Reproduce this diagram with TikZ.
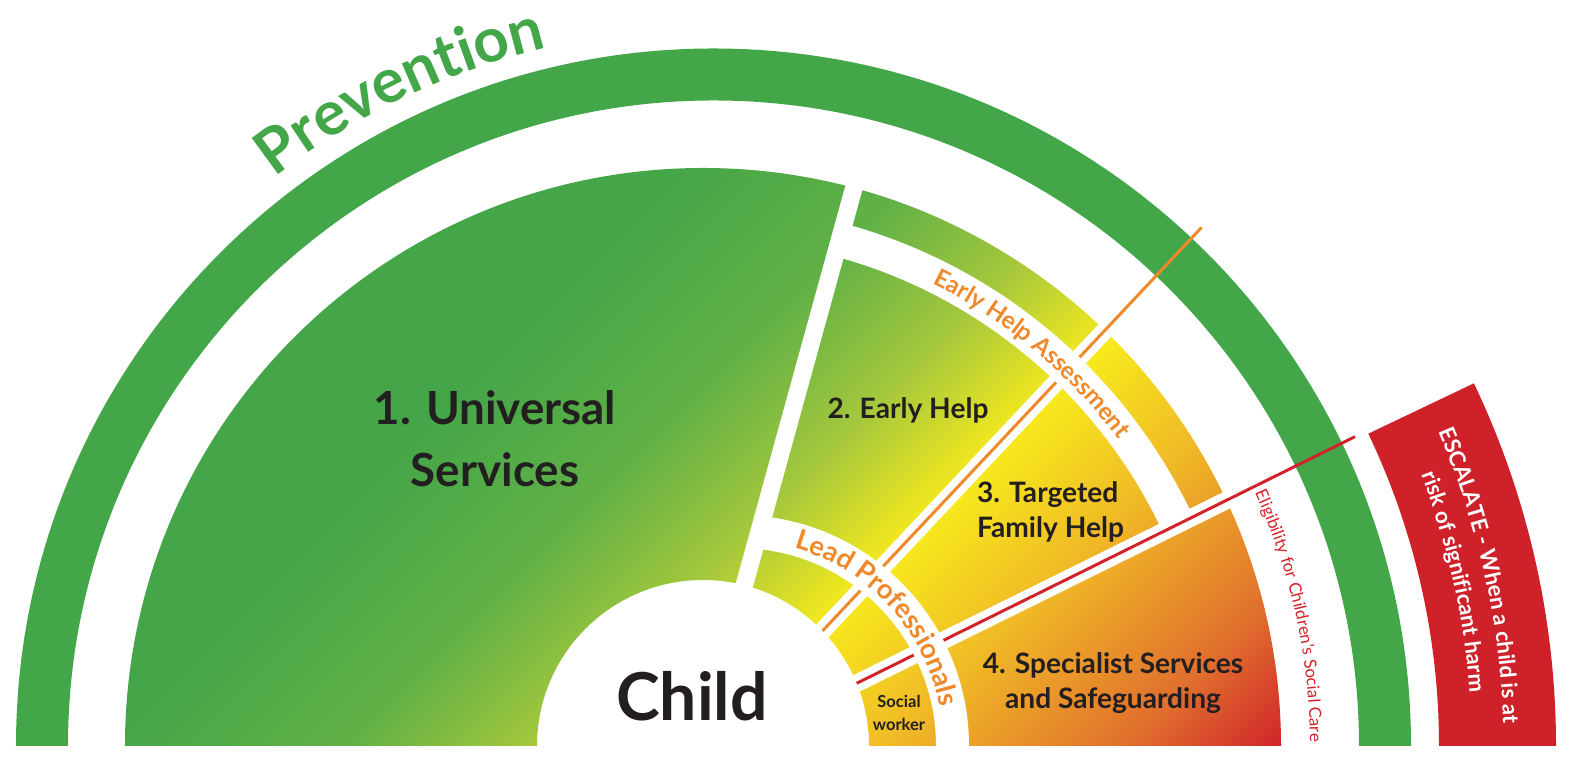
\documentclass[tikz,border=0pt]{standalone}
\usepackage{fontspec}
\setmainfont{Lato}
\usetikzlibrary{decorations.text}
\definecolor{prevgreen}{RGB}{67,167,74}
\definecolor{escred}{RGB}{207,33,41}
\definecolor{lineorange}{RGB}{240,137,42}
\definecolor{linered}{RGB}{210,35,42}
\definecolor{ink}{RGB}{35,31,32}
% colour stops of the band, green to red
\definecolor{g0}{RGB}{69,166,73}
\definecolor{g1}{RGB}{98,177,70}
\definecolor{g2}{RGB}{165,200,60}
\definecolor{g3}{RGB}{247,234,28}
\definecolor{g4}{RGB}{240,186,38}
\definecolor{g5}{RGB}{224,110,45}
\definecolor{g6}{RGB}{208,35,42}
\begin{document}
\begin{tikzpicture}[x=0.1mm,y=0.1mm,
    lbl/.style={text=ink,inner sep=0pt,align=center,font=\bfseries\fontsize{8}{10}\selectfont},
    gap/.style={white,line width=5pt},
    arctext/.style={decorate,decoration={text along path,text align=center,text={#1}}}]
    \useasboundingbox (-703,-22) rectangle (875,746);
    \coordinate (core) at (0,0);
    \coordinate (ring) at (10.5,0);
    \coordinate (lpc) at (35,0);

    % prevention ring and escalate band
    \fill[prevgreen] (ring) ++(0:697.5) arc[start angle=0,end angle=180,radius=697.5]
        -- ++(52,0) arc[start angle=180,end angle=0,radius=645.5] -- cycle;
    \fill[escred] (ring) ++(0:842.5) arc[start angle=0,end angle=25.5,radius=842.5]
        -- ++(205.5:117) arc[start angle=25.5,end angle=0,radius=725.5] -- cycle;

    % coloured half disc
    \begin{scope}
        \clip (core) ++(0:578) arc[start angle=0,end angle=180,radius=578]
            -- ++(412,0) arc[start angle=180,end angle=0,radius=166] -- cycle;
        \begin{scope}[transform canvas={rotate=-45}]
            \foreach \ua/\ub/\ca/\cb in {-900/-420/g0/g0,-420/-250/g0/g1,-250/-120/g1/g2,
                -120/0/g2/g3,0/130/g3/g4,130/300/g4/g5,300/410/g5/g6,410/700/g6/g6}
                \shade[left color=\ca,right color=\cb] (\ua-0.5,-900) rectangle (\ub+0.5,900);
        \end{scope}
    \end{scope}

    % gaps between the sections
    \coordinate (g12a) at (-3,0);
    \coordinate (g12b) at (162.4,600);
    \coordinate (g23a) at (11.3,0);
    \coordinate (g23b) at (416.7,431.4);
    \coordinate (g34a) at (27,0);
    \coordinate (g34b) at (543,255.3);
    \draw[gap] (g12a) -- (g12b);
    \draw[gap] (g23a) -- (g23b);
    \draw[gap] (g34a) -- (g34b);

    % thresholds
    \coordinate (ehA) at (119.6,115.2);
    \coordinate (ehB) at (498.5,518.5);
    \coordinate (scA) at (153.7,62.7);
    \coordinate (scB) at (652,309.3);
    \draw[lineorange,line width=0.85pt] (ehA) -- (ehB);
    \draw[linered,line width=0.85pt] (scA) -- (scB);

    % lead professionals and early help assessment strips
    \begin{scope}
        \clip (g12a) -- (217.6,800) -- (900,800) -- (900,0) -- cycle;
        \fill[white] (lpc) ++(0:231) arc[start angle=0,end angle=180,radius=231]
            -- ++(33,0) arc[start angle=180,end angle=0,radius=198] -- cycle;
        \clip (g12a) -- (217.6,800) -- (900,800) -- (900,437.6) -- (24.8,4.5) -- cycle;
        \fill[white] (core) ++(0:541) arc[start angle=0,end angle=180,radius=541]
            -- ++(34,0) arc[start angle=180,end angle=0,radius=507] -- cycle;
    \end{scope}

    % texts along the arcs
    \path[arctext={|\color{prevgreen}\bfseries\fontsize{17.6}{20}\selectfont|Prevention}]
        (ring) ++(145:718) arc[start angle=145,end angle=86,radius=718];
    \path[arctext={|\color{lineorange}\bfseries\fontsize{6.9}{9}\selectfont|Early Help Assessment}]
        (core) ++(72:516) arc[start angle=72,end angle=28,radius=516];
    \path[arctext={|\color{lineorange}\bfseries\fontsize{7.8}{9}\selectfont|Lead Professionals}]
        (lpc) ++(88:206) arc[start angle=88,end angle=-3,radius=206];
    \path[arctext={|\color{white}\bfseries\fontsize{6.3}{8}\selectfont|ESCALATE - When a child is at}]
        (ring) ++(27:790) arc[start angle=27,end angle=-2,radius=790];
    \path[arctext={|\color{white}\bfseries\fontsize{6.3}{8}\selectfont|risk of significant harm}]
        (ring) ++(27:758) arc[start angle=27,end angle=-2,radius=758];
    \path[arctext={|\color{linered}\fontsize{4.8}{6}\selectfont|Eligibility for Children’s Social Care}]
        (core) ++(26:607) arc[start angle=26,end angle=-1,radius=607];

    % section labels
    \node[lbl,font=\bfseries\fontsize{13}{17.6}\selectfont] (universal) at (-208,307) {1. Universal\\Services};
    \node[lbl,anchor=base] (early) at (205,327.7) {2. Early Help};
    \node[lbl,align=left] (targeted) at (347.5,234.5) {3. Targeted\\Family Help};
    \node[lbl] (specialist) at (410,63) {4. Specialist Services\\and Safeguarding};
    \node[lbl,font=\bfseries\fontsize{4.7}{6.3}\selectfont] (social) at (196,33) {Social\\worker};
    \node[lbl,font=\bfseries\fontsize{18.8}{22}\selectfont] (child) at (-11,50) {Child};
\end{tikzpicture}
\end{document}
